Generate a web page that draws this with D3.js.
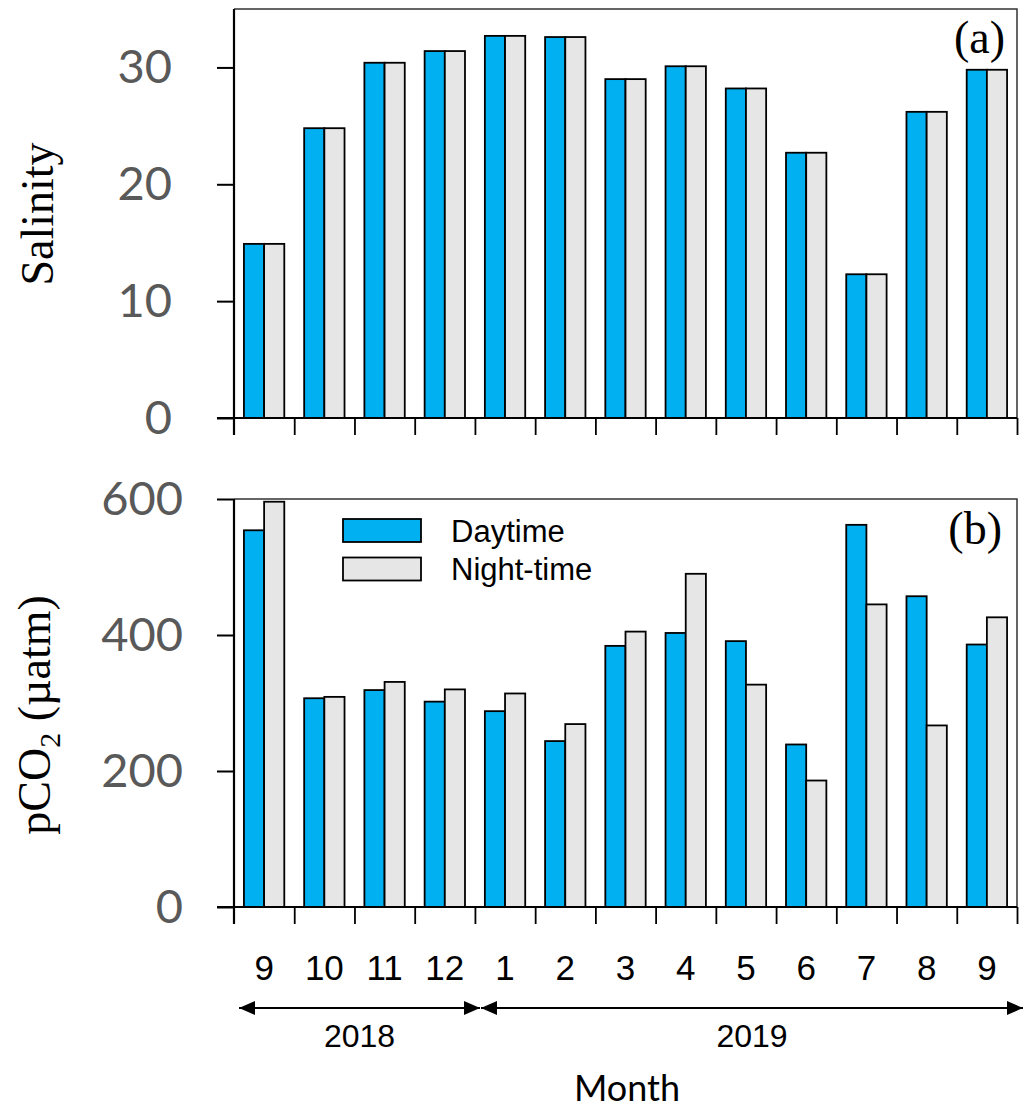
<!DOCTYPE html>
<html lang="en">
<head>
<meta charset="utf-8">
<title>Salinity and pCO2</title>
<script src="https://d3js.org/d3.v7.min.js"></script>
<style>
  body { margin: 0; background: #fff; }
  .tick text { fill: #595959; font-family: Lato, "Open Sans", sans-serif; }
</style>
</head>
<body>
<svg width="1023" height="1111"></svg>
<script>
    // data
    const months = ["9", "10", "11", "12", "1", "2", "3", "4", "5", "6", "7", "8", "9"];
    const salinityDay = [14.9, 24.8, 30.4, 31.4, 32.7, 32.6, 29.0, 30.1, 28.2, 22.7, 12.3, 26.2, 29.8];
    const salinityNight = [14.9, 24.8, 30.4, 31.4, 32.7, 32.6, 29.0, 30.1, 28.2, 22.7, 12.3, 26.2, 29.8];
    const pco2Day = [554, 307, 319, 302, 288, 244, 384, 403, 391, 239, 562, 457, 386];
    const pco2Night = [596, 309, 331, 320, 314, 269, 405, 490, 327, 186, 445, 267, 426];
    const salinityTicks = [0, 10, 20, 30];
    const pco2Ticks = [0, 200, 400, 600];
    const series = ["Daytime", "Night-time"];
    const years = [{label: "2018", from: 0, to: 4}, {label: "2019", from: 4, to: 13}];

    const colors = ["#00B0F0", "#E6E6E6"];
    const left = 234, right = 1017;

    var svg = d3.select("svg");

    var x = d3.scaleBand()
        .domain(d3.range(months.length))
        .range([left, right])
        .paddingInner(0.33)
        .paddingOuter(0.165);
    var xs = d3.scaleBand().domain([0, 1]).range([0, x.bandwidth()]);
    var step = x.step();
    var edges = d3.range(months.length + 1).map(function (i) { return left + i * step; });

    function panel(opts) {
        var y = d3.scaleLinear().domain(opts.domain).range([opts.bottom, opts.top]);
        var g = svg.append("g");

        // box top + right
        g.append("path")
            .attr("d", "M" + left + "," + opts.top + "H" + right + "V" + opts.bottom)
            .attr("fill", "none")
            .attr("stroke", "#333")
            .attr("stroke-width", 1.5);

        // bars
        var data = opts.day.map(function (d, i) { return [d, opts.night[i]]; });
        g.selectAll(".grp")
            .data(data)
            .enter().append("g")
            .attr("transform", function (d, i) { return "translate(" + x(i) + ",0)"; })
            .selectAll("rect")
            .data(function (d) { return d; })
            .enter().append("rect")
            .attr("x", function (d, j) { return xs(j); })
            .attr("width", xs.bandwidth())
            .attr("y", function (d) { return y(d); })
            .attr("height", function (d) { return opts.bottom - y(d); })
            .attr("fill", function (d, j) { return colors[j]; })
            .attr("stroke", "#000")
            .attr("stroke-width", 1.8);

        // y axis
        var ya = g.append("g")
            .attr("transform", "translate(" + left + ",0)")
            .call(d3.axisLeft(y).tickValues(opts.ticks).tickSize(17).tickPadding(opts.pad).tickSizeOuter(0));
        ya.select(".domain").attr("stroke-width", 2.2).attr("d", "M0," + opts.top + "V" + (opts.bottom + 17));
        ya.selectAll(".tick line").attr("stroke-width", 2);
        ya.selectAll(".tick text").style("font-size", "47px");

        // x axis with ticks between groups
        var xa = g.append("g")
            .attr("transform", "translate(0," + opts.bottom + ")")
            .call(d3.axisBottom(d3.scaleLinear().domain([left, right]).range([left, right]))
                .tickValues(edges.slice(1)).tickSize(17).tickFormat("").tickSizeOuter(0));
        xa.select(".domain").attr("stroke-width", 2.2).attr("d", "M" + (left - 17) + ",0H" + right);
        xa.selectAll(".tick line").attr("stroke-width", 1.8);

        // y label
        var lab = g.append("text")
            .attr("transform", "translate(" + opts.labelX + "," + opts.labelY + ") rotate(-90)")
            .attr("text-anchor", "middle")
            .style("font-family", "'Liberation Serif', 'Times New Roman', serif")
            .style("font-size", "46px")
            .style("fill", "#000");
        opts.label(lab);

        // panel letter
        g.append("text")
            .attr("x", opts.letterX)
            .attr("y", opts.letterY)
            .attr("text-anchor", "end")
            .style("font-family", "'Liberation Serif', 'Times New Roman', serif")
            .style("font-size", "46px")
            .text(opts.letter);
        return y;
    }

    panel({
        domain: [0, 35], top: 9, bottom: 418, ticks: salinityTicks, pad: 45,
        day: salinityDay, night: salinityNight,
        labelX: 53, labelY: 214,
        label: function (t) { t.text("Salinity"); },
        letter: "(a)", letterX: 1005, letterY: 53
    });

    panel({
        domain: [0, 600], top: 499, bottom: 907, ticks: pco2Ticks, pad: 34,
        day: pco2Day, night: pco2Night,
        labelX: 50, labelY: 715,
        label: function (t) {
            t.append("tspan").text("pCO");
            t.append("tspan").attr("dy", 10).style("font-size", "30px").text("2");
            t.append("tspan").attr("dy", -10).text(" (\u00B5atm)");
        },
        letter: "(b)", letterX: 1002, letterY: 544
    });

    // legend
    var legend = svg.append("g");
    series.forEach(function (s, i) {
        legend.append("rect")
            .attr("x", 343).attr("y", 519 + i * 38.5)
            .attr("width", 78).attr("height", 23)
            .attr("fill", colors[i]).attr("stroke", "#000").attr("stroke-width", 1.8);
        legend.append("text")
            .attr("x", 451).attr("y", 541.5 + i * 38.5)
            .style("font-family", "'Liberation Sans', Arial, sans-serif")
            .style("font-size", "31px")
            .text(s);
    });

    // month labels
    svg.selectAll(".month")
        .data(months)
        .enter().append("text")
        .attr("class", "month")
        .attr("x", function (d, i) { return x(i) + x.bandwidth() / 2; })
        .attr("y", 980)
        .attr("text-anchor", "middle")
        .style("font-family", "'Liberation Sans', Arial, sans-serif")
        .style("font-size", "35px")
        .text(function (d) { return d; });

    // year arrows
    svg.append("defs").append("marker")
        .attr("id", "arr")
        .attr("viewBox", "0 0 16 14")
        .attr("refX", 16).attr("refY", 7)
        .attr("markerUnits", "userSpaceOnUse")
        .attr("markerWidth", 16).attr("markerHeight", 14)
        .attr("orient", "auto-start-reverse")
        .append("path").attr("d", "M0,0L16,7L0,14Z").attr("fill", "#000");

    var yearTips = [[239, 480], [481, 1023]];
    years.forEach(function (yr, i) {
        svg.append("line")
            .attr("x1", yearTips[i][0]).attr("x2", yearTips[i][1])
            .attr("y1", 1008).attr("y2", 1008)
            .attr("stroke", "#000").attr("stroke-width", 2)
            .attr("marker-start", "url(#arr)")
            .attr("marker-end", "url(#arr)");
        svg.append("text")
            .attr("x", (yearTips[i][0] + yearTips[i][1]) / 2)
            .attr("y", 1047)
            .attr("text-anchor", "middle")
            .style("font-family", "'Liberation Sans', Arial, sans-serif")
            .style("font-size", "32px")
            .text(yr.label);
    });

    svg.append("text")
        .attr("x", 627).attr("y", 1101)
        .attr("text-anchor", "middle")
        .style("font-family", "Lato, 'Open Sans', sans-serif")
        .style("font-size", "36px")
        .text("Month");
</script>
</body>
</html>
